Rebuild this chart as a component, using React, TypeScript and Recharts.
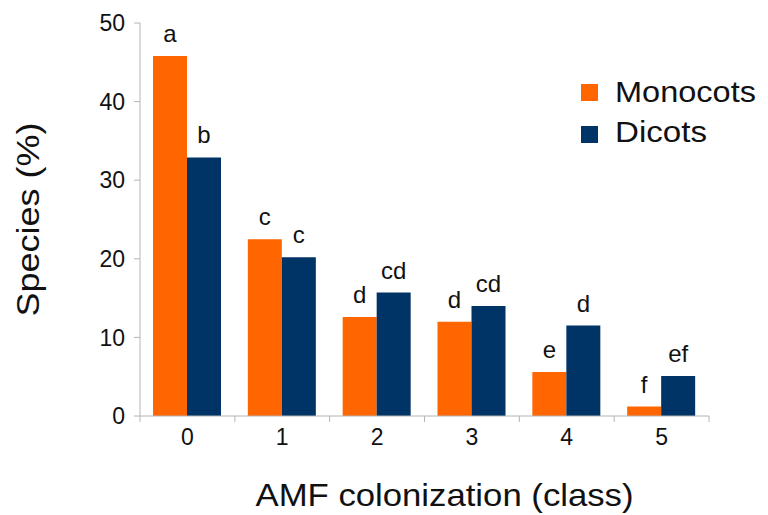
import React from 'react';
import { BarChart, Bar, XAxis, YAxis, LabelList, Legend, Label } from 'recharts';

const categories = ['0', '1', '2', '3', '4', '5'];
const monocots = [45.8, 22.5, 12.6, 12.0, 5.6, 1.2];
const dicots = [32.9, 20.2, 15.7, 14.0, 11.5, 5.1];
const monoLetters = ['a', 'c', 'd', 'd', 'e', 'f'];
const dicotLetters = ['b', 'c', 'cd', 'cd', 'd', 'ef'];
const yTicks = [0, 10, 20, 30, 40, 50];
const seriesOrder = ['Monocots', 'Dicots'];

const data = categories.map((c, i) => ({
  cls: c,
  Monocots: monocots[i],
  Dicots: dicots[i],
  mL: monoLetters[i],
  dL: dicotLetters[i],
}));

const FONT = '"Liberation Sans", Arial, sans-serif';
const W = 768;
const H = 515;
const MARGIN = { top: 23, right: 59, bottom: 0, left: 0 };
const YW = 140;
const XH = 99;
const AXIS = '#b4b4b4';
const ORANGE = '#FF6600';
const NAVY = '#003366';

const plotW = W - MARGIN.left - MARGIN.right - YW;
const band = plotW / categories.length;

const XTick = (props: any) => {
  const { x, y, payload, index } = props;
  const half = band / 2;
  return (
    <g>
      <line x1={x - half} x2={x - half} y1={y - 8} y2={y - 2} stroke={AXIS} />
      {index === categories.length - 1 && (
        <line x1={x + half} x2={x + half} y1={y - 8} y2={y - 2} stroke={AXIS} />
      )}
      <text x={x} y={y + 21} textAnchor="middle" fontSize={23} fill="#111" fontFamily={FONT}>
        {payload.value}
      </text>
    </g>
  );
};

const LegendContent = (props: any) => {
  const payload = [...(props.payload || [])].sort(
    (a: any, b: any) => seriesOrder.indexOf(a.value) - seriesOrder.indexOf(b.value)
  );
  return (
    <svg width={186} height={80} style={{ display: 'block', overflow: 'visible' }}>
      {payload.map((p: any, i: number) => (
        <g key={p.value}>
          <rect x={3} y={6 + i * 42} width={17} height={17} fill={p.color} />
          <text
            x={37}
            y={23.5 + i * 40.5}
            fontSize={29}
            fontFamily={FONT}
            fill="#111"
            textLength={p.value === 'Monocots' ? 141 : 92}
            lengthAdjust="spacingAndGlyphs"
          >
            {p.value}
          </text>
        </g>
      ))}
    </svg>
  );
};

export default function App() {
  return (
    <div style={{ position: 'absolute', left: 0, top: 0, width: W, height: H, background: '#fff' }}>
      <BarChart width={W} height={H} data={data} margin={MARGIN} barGap={0} barCategoryGap={13}>
        <XAxis
          dataKey="cls"
          height={XH}
          stroke={AXIS}
          tickLine={false}
          tick={<XTick />}
          interval={0}
        >
          <Label
            content={(p: any) => {
              const vb = p.viewBox;
              return (
                <text
                  x={vb.x + vb.width / 2 + 20}
                  y={506}
                  textAnchor="middle"
                  fontSize={32}
                  fontFamily={FONT}
                  fill="#111"
                  textLength={378}
                  lengthAdjust="spacingAndGlyphs"
                >
                  AMF colonization (class)
                </text>
              );
            }}
          />
        </XAxis>
        <YAxis
          width={YW}
          domain={[0, 50]}
          ticks={yTicks}
          interval={0}
          stroke={AXIS}
          tickSize={6}
          tickMargin={9}
          tick={{ fontSize: 23, fill: '#111', fontFamily: FONT }}
        >
          <Label
            content={(p: any) => {
              const vb = p.viewBox;
              const cx = 39;
              const cy = vb.y + vb.height / 2;
              return (
                <text
                  x={cx}
                  y={cy}
                  transform={`rotate(-90 ${cx} ${cy})`}
                  textAnchor="middle"
                  fontSize={32}
                  fontFamily={FONT}
                  fill="#111"
                  textLength={194}
                  lengthAdjust="spacingAndGlyphs"
                >
                  Species (%)
                </text>
              );
            }}
          />
        </YAxis>
        <Legend
          layout="vertical"
          align="center"
          verticalAlign="middle"
          wrapperStyle={{ position: 'absolute', left: 578, top: 78, width: 186, height: 80 }}
          content={<LegendContent />}
        />
        <Bar dataKey="Monocots" fill={ORANGE} isAnimationActive={false}>
          <LabelList dataKey="mL" position="top" offset={14} fontSize={24} fill="#111" fontFamily={FONT} />
        </Bar>
        <Bar dataKey="Dicots" fill={NAVY} isAnimationActive={false}>
          <LabelList dataKey="dL" position="top" offset={14} fontSize={24} fill="#111" fontFamily={FONT} />
        </Bar>
      </BarChart>
    </div>
  );
}
